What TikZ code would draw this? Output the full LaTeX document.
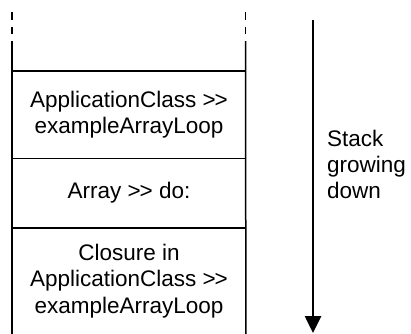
\documentclass[tikz,border=0pt]{standalone}
\usepackage{fontspec}
\setmainfont{Liberation Sans}
\usetikzlibrary{positioning,arrows.meta}
\tikzstyle{frame} = [rectangle, minimum width=233.5pt, inner sep=0pt, align=center, font=\fontsize{22.5}{26.5}\selectfont]
\tikzstyle{edge} = [line width=1.5pt]
\tikzstyle{arrow} = [line width=2.6pt,-{Triangle[length=17pt,width=16pt]}]

\begin{document}
\begin{tikzpicture}[x=1pt,y=-1pt]
\useasboundingbox (0,0) rectangle (411,333);
\node (caller) [frame, minimum height=87pt, anchor=north west] at (12,71) {ApplicationClass >\kern-1pt>\\exampleArrayLoop};
\node (doit) [frame, minimum height=69pt, below=0pt of caller] {Array >\kern-1pt> do:};
\node (closure) [frame, minimum height=106pt, below=0pt of doit] {Closure in\\ApplicationClass >\kern-1pt>\\exampleArrayLoop};
\coordinate (lefttop) at (12,41);
\coordinate (righttop) at (245.5,41);
\coordinate (leftend) at (12,12);
\coordinate (rightend) at (245.5,12);

% open ends of the stack
\draw [edge, dash pattern=on 7.5pt off 7pt] (leftend) -- (lefttop);
\draw [edge, dash pattern=on 7.5pt off 7pt] (rightend) -- (righttop);
\draw [edge] (lefttop) -- (closure.south west);
\draw [edge] (righttop) -- (closure.south east);

% frame separators
\draw [edge] (caller.north west) -- (caller.north east);
\draw [edge] (doit.north west) -- (doit.north east);
\draw [edge] (closure.north west) -- (closure.north east);

% direction of growth
\coordinate (growtop) at (313,20);
\coordinate (growtip) at (313,333);
\draw [arrow] (growtop) -- (growtip);
\node (growlabel) [anchor=west, align=left, inner sep=0pt, font=\fontsize{22.5}{26}\selectfont] at (327,164) {Stack\\growing\\down};
\end{tikzpicture}
\end{document}
